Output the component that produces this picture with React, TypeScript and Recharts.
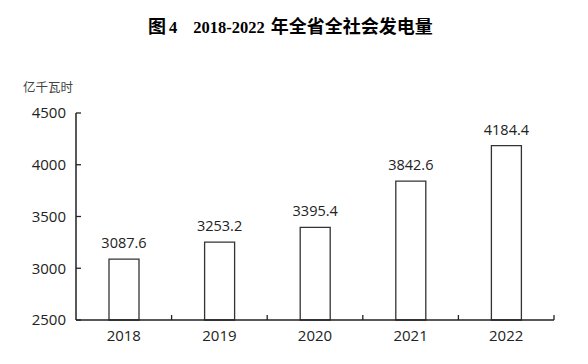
import { BarChart, Bar, XAxis, YAxis, LabelList } from "recharts";

const years = ["2018", "2019", "2020", "2021", "2022"];
const generation = [3087.6, 3253.2, 3395.4, 3842.6, 4184.4];
const yTicks = [2500, 3000, 3500, 4000, 4500];

const data = years.map((year, i) => ({ year, value: generation[i] }));

const ink = "#222222";
const sans = "'Open Sans', 'Noto Sans', sans-serif";
const cjk = "'Noto Sans CJK SC', sans-serif";
const TICK_GAP = 10;
const TICK_LEN = 5;

// category label plus an inward tick at the right edge of its band
function YearTick(props: any) {
  const { x, y, payload, width, visibleTicksCount } = props;
  const axisY = y - TICK_GAP;
  const half = width / (visibleTicksCount || years.length) / 2;
  return (
    <g>
      <line x1={x + half} x2={x + half} y1={axisY} y2={axisY - TICK_LEN} stroke={ink} strokeWidth={1.3} />
      <text x={x} y={y} dy="0.71em" textAnchor="middle" fill={ink} fontSize={15} fontFamily={sans}>
        {payload.value}
      </text>
    </g>
  );
}

function ValueTick(props: any) {
  const { x, y, payload } = props;
  const axisX = x + TICK_GAP;
  return (
    <g>
      <line x1={axisX} x2={axisX + TICK_LEN} y1={y} y2={y} stroke={ink} strokeWidth={1.3} />
      <text x={x} y={y} dy="0.36em" textAnchor="end" fill={ink} fontSize={15} fontFamily={sans}>
        {payload.value}
      </text>
    </g>
  );
}

export default function App() {
  return (
    <div style={{ position: "relative", width: 572, height: 348 }}>
      <div
        style={{
          position: "absolute",
          left: 140,
          top: 8,
          whiteSpace: "pre",
          fontWeight: "bold",
          lineHeight: "18px",
          color: "#000",
        }}
      >
        <span style={{ fontFamily: cjk, fontSize: 18 }}>图</span>
        <span style={{ fontFamily: "'Liberation Serif', serif", fontSize: 16.5, marginLeft: 3 }}>4</span>
        <span style={{ fontFamily: "'Liberation Serif', serif", fontSize: 16.5, marginLeft: 16 }}>
          2018-2022
        </span>
        <span style={{ fontFamily: cjk, fontSize: 18, marginLeft: 6 }}>年全省全社会发电量</span>
      </div>
      <div
        style={{
          position: "absolute",
          left: 15,
          top: 73,
          fontFamily: cjk,
          fontSize: 12.5,
          lineHeight: "12.5px",
          color: "#444",
        }}
      >
        亿千瓦时
      </div>
      <BarChart
        width={572}
        height={348}
        data={data}
        margin={{ top: 105, right: 26, bottom: 6, left: 8 }}
      >
        <XAxis
          dataKey="year"
          height={30}
          tickSize={0}
          tickMargin={TICK_GAP}
          interval={0}
          tickLine={false}
          axisLine={{ stroke: ink, strokeWidth: 1.5 }}
          tick={<YearTick />}
        />
        <YAxis
          domain={[2500, 4500]}
          ticks={yTicks}
          width={60}
          tickSize={0}
          tickMargin={TICK_GAP}
          tickLine={false}
          axisLine={{ stroke: ink, strokeWidth: 1.5 }}
          tick={<ValueTick />}
        />
        <Bar
          dataKey="value"
          barSize={30}
          fill="#ffffff"
          stroke="#333333"
          strokeWidth={1.3}
          isAnimationActive={false}
        >
          <LabelList
            dataKey="value"
            position="top"
            offset={11}
            fill={ink}
            fontSize={14.5}
            fontFamily={sans}
            formatter={(v: number) => v.toFixed(1)}
          />
        </Bar>
      </BarChart>
    </div>
  );
}
